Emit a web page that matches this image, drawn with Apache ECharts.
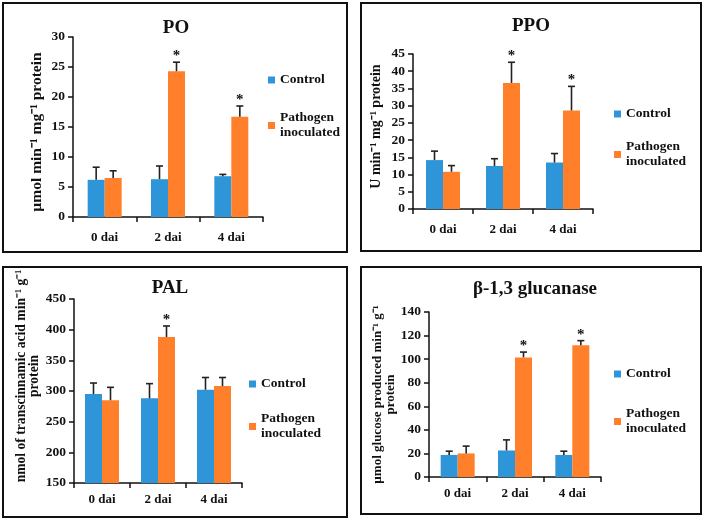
<!DOCTYPE html>
<html>
<head>
<meta charset="utf-8">
<script src="https://cdn.jsdelivr.net/npm/echarts@6/dist/echarts.min.js"></script>
<style>
html,body{margin:0;padding:0;background:#fff;}
#c{width:706px;height:519px;}
</style>
</head>
<body>
<div id="c"></div>
<script>
// ---- data ----
const categories = ['0 dai', '2 dai', '4 dai'];
const seriesNames = ['Control', 'Pathogen inoculated'];

const poTitle = 'PO';
const poControl = [6.2, 6.3, 6.8];
const poControlErr = [2.1, 2.2, 0.3];
const poPathogen = [6.5, 24.3, 16.7];
const poPathogenErr = [1.2, 1.5, 1.8];
const poSig = [0, 1, 1];
const poTicks = [0, 30, 5];

const ppoTitle = 'PPO';
const ppoControl = [14.2, 12.5, 13.5];
const ppoControlErr = [2.6, 2.1, 2.6];
const ppoPathogen = [10.8, 36.6, 28.6];
const ppoPathogenErr = [1.8, 6.0, 7.0];
const ppoSig = [0, 1, 1];
const ppoTicks = [0, 45, 5];

const palTitle = 'PAL';
const palControl = [295, 288, 302];
const palControlErr = [18, 24, 20];
const palPathogen = [285, 388, 308];
const palPathogenErr = [21, 18, 14];
const palSig = [0, 1, 0];
const palTicks = [150, 450, 50];

const glcTitle = 'β-1,3 glucanase';
const glcControl = [18.7, 22.5, 18.7];
const glcControlErr = [3.2, 9.0, 3.2];
const glcPathogen = [20.0, 101.5, 111.7];
const glcPathogenErr = [6.2, 4.5, 4.0];
const glcSig = [0, 1, 1];
const glcTicks = [0, 140, 20];

const yNames = [
  'µmol min⁻¹ mg⁻¹ protein',
  'U min⁻¹ mg⁻¹ protein',
  'nmol of transcinnamic acid min⁻¹ g⁻¹\nprotein',
  'µmol glucose produced min⁻¹ g⁻¹\nprotein'
];

// ---- layout / style ----
const FONT = '"Liberation Serif", "Times New Roman", serif';
const BLUE = '#2E96D8';
const ORANGE = '#FF7F2A';
const BAR_W = 17;

const panels = [
  {title: poTitle, c: poControl, ce: poControlErr, p: poPathogen, pe: poPathogenErr, sig: poSig, ticks: poTicks,
   box: [3, 3, 344, 249], grid: {left: 73, top: 37, width: 190, height: 180}, titleXY: [176, 19],
   leg1: [268, 73], leg2: [268, 103], nameGap: 30, nameSize: 15.5, namePad: [0, 10, 0, 0], labelMargin: 14},
  {title: ppoTitle, c: ppoControl, ce: ppoControlErr, p: ppoPathogen, pe: ppoPathogenErr, sig: ppoSig, ticks: ppoTicks,
   box: [361, 3, 340, 248], grid: {left: 413, top: 54, width: 180, height: 155}, titleXY: [531, 17],
   leg1: [614, 107], leg2: [614, 132], nameGap: 30, nameSize: 14, namePad: [0, 0, 0, 10], labelMargin: 14},
  {title: palTitle, c: palControl, ce: palControlErr, p: palPathogen, pe: palPathogenErr, sig: palSig, ticks: palTicks,
   box: [3, 267, 344, 250], grid: {left: 74, top: 299, width: 168, height: 184}, titleXY: [170, 279],
   leg1: [249, 377], leg2: [249, 404], nameGap: 32, nameSize: 13.6, namePad: [0, 0, 0, 30], labelMargin: 10},
  {title: glcTitle, c: glcControl, ce: glcControlErr, p: glcPathogen, pe: glcPathogenErr, sig: glcSig, ticks: glcTicks,
   box: [361, 267, 340, 247], grid: {left: 429, top: 312, width: 172, height: 165}, titleXY: [535, 280],
   leg1: [614, 367], leg2: [614, 399], nameGap: 31, nameSize: 13, namePad: [0, 0, 0, 0], labelMargin: 10}
];

const option = {
  animation: false,
  backgroundColor: '#fff',
  title: [], legend: [], grid: [], xAxis: [], yAxis: [], series: [],
  graphic: []
};

function errSeries(gi, vals, errs, sig, offset) {
  return {
    type: 'custom',
    xAxisIndex: gi, yAxisIndex: gi,
    silent: true,
    z: 5,
    data: vals.map((v, i) => [i, v, v + errs[i], sig[i]]),
    encode: {x: 0, y: [1, 2]},
    renderItem: function (params, api) {
      const base = api.coord([api.value(0), api.value(1)]);
      const top = api.coord([api.value(0), api.value(2)]);
      const x = base[0] + offset;
      const children = [
        {type: 'line', shape: {x1: x, y1: base[1], x2: x, y2: top[1]}, style: {stroke: '#222', lineWidth: 1.6}},
        {type: 'line', shape: {x1: x - 3.5, y1: top[1], x2: x + 3.5, y2: top[1]}, style: {stroke: '#222', lineWidth: 1.6}}
      ];
      if (api.value(3)) {
        children.push({type: 'text', style: {x: x, y: top[1] - 6, text: '*', textAlign: 'center', textVerticalAlign: 'middle',
          font: 'bold 15px ' + FONT, fill: '#111'}});
      }
      return {type: 'group', children: children};
    }
  };
}

panels.forEach((pn, gi) => {
  option.graphic.push({type: 'rect', shape: {x: pn.box[0], y: pn.box[1], width: pn.box[2], height: pn.box[3]},
    style: {fill: 'none', stroke: '#111', lineWidth: 2}, z: 0, silent: true});
  option.title.push({text: pn.title, left: pn.titleXY[0], top: pn.titleXY[1], textAlign: 'center', padding: 0,
    textStyle: {fontFamily: FONT, fontWeight: 'bold', fontSize: 19, color: '#111'}});
  option.grid.push(Object.assign({containLabel: false}, pn.grid));
  option.xAxis.push({type: 'category', gridIndex: gi, data: categories, boundaryGap: true,
    axisLine: {lineStyle: {color: '#111', width: 1.5}},
    axisTick: {show: true, length: 5, lineStyle: {color: '#111', width: 1.5}},
    axisLabel: {fontFamily: FONT, fontWeight: 'bold', fontSize: 13, color: '#111', margin: pn.labelMargin}});
  option.yAxis.push({type: 'value', gridIndex: gi, min: pn.ticks[0], max: pn.ticks[1], interval: pn.ticks[2],
    name: yNames[gi], nameLocation: 'middle', nameRotate: 90, nameGap: pn.nameGap,
    nameTextStyle: {fontFamily: FONT, fontWeight: 'bold', fontSize: pn.nameSize, color: '#111', lineHeight: 13,
      padding: pn.namePad},
    axisLine: {show: true, lineStyle: {color: '#111', width: 1.5}},
    axisTick: {show: true, length: 5, lineStyle: {color: '#111', width: 1.5}},
    splitLine: {show: false},
    axisLabel: {fontFamily: FONT, fontWeight: 'bold', fontSize: 13.5, color: '#111', margin: 8}});
  option.series.push({type: 'bar', name: seriesNames[0], xAxisIndex: gi, yAxisIndex: gi, data: pn.c,
    barWidth: BAR_W, barGap: '0%', itemStyle: {color: BLUE}});
  option.series.push({type: 'bar', name: seriesNames[1], xAxisIndex: gi, yAxisIndex: gi, data: pn.p,
    barWidth: BAR_W, barGap: '0%', itemStyle: {color: ORANGE}});
  option.series.push(errSeries(gi, pn.c, pn.ce, [0, 0, 0], -BAR_W / 2));
  option.series.push(errSeries(gi, pn.p, pn.pe, pn.sig, BAR_W / 2));
  option.legend.push({data: [seriesNames[0]], left: pn.leg1[0], top: pn.leg1[1], padding: 0,
    icon: 'rect', itemWidth: 7, itemHeight: 7, itemGap: 0, selectedMode: false,
    textStyle: {fontFamily: FONT, fontWeight: 'bold', fontSize: 13.5, color: '#111'}});
  option.legend.push({data: [seriesNames[1]], left: pn.leg2[0], top: pn.leg2[1], padding: 0,
    icon: 'rect', itemWidth: 7, itemHeight: 7, itemGap: 0, selectedMode: false,
    formatter: function (n) { return n.replace(' ', '\n'); },
    textStyle: {fontFamily: FONT, fontWeight: 'bold', fontSize: 13.5, color: '#111', lineHeight: 15, padding: [15, 0, 0, 0]}});
});

const chart = echarts.init(document.getElementById('c'), null, {renderer: 'canvas'});
chart.setOption(option);
</script>
</body>
</html>
